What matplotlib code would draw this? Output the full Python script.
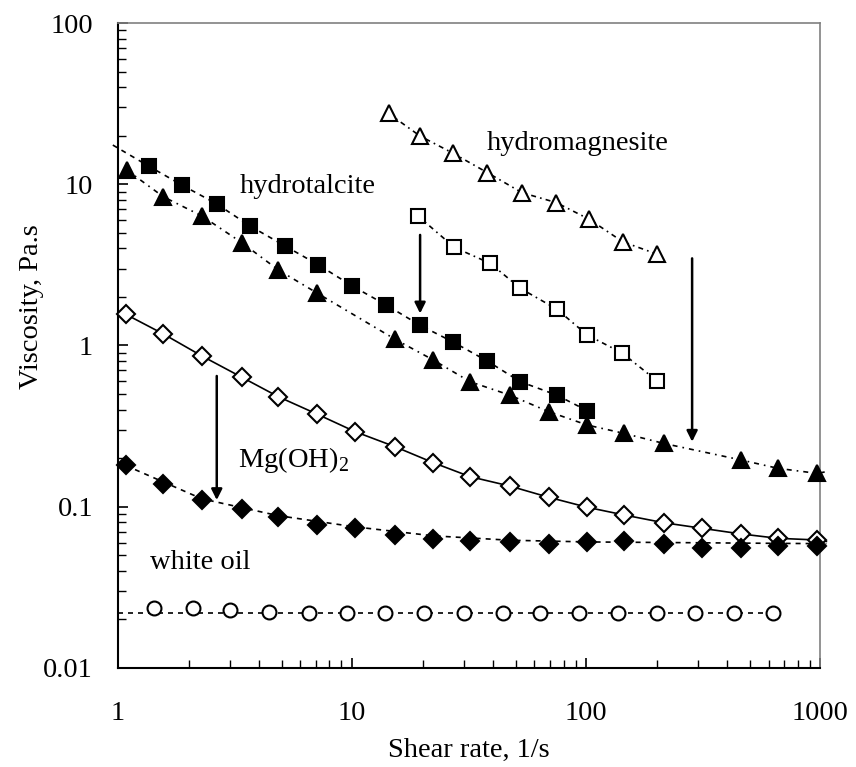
import matplotlib
matplotlib.use("Agg")
import matplotlib.pyplot as plt
from matplotlib.ticker import LogLocator, FuncFormatter, NullFormatter

plt.rcParams["font.family"] = ["Liberation Serif", "DejaVu Serif"]
plt.rcParams["mathtext.fontset"] = "custom"
plt.rcParams["mathtext.rm"] = "Liberation Serif"

# hydromagnesite, untreated (open triangles) and treated (open squares)
hmg_x = [14.3, 19.5, 26.9, 37.8, 53.1, 74.5, 103, 143, 200]
hmg_y = [27.5, 19.9, 15.6, 11.8, 8.87, 7.69, 6.06, 4.40, 3.69]
hmg_t_x = [19.1, 27.3, 38.9, 52.3, 74.8, 101, 142, 200]
hmg_t_y = [6.36, 4.06, 3.23, 2.26, 1.68, 1.16, 0.90, 0.605]

# hydrotalcite, untreated (filled squares) and treated (filled triangles)
ht_x = [1.35, 1.87, 2.64, 3.66, 5.17, 7.18, 10.0, 14.0, 19.4, 27.0, 37.8, 52.3, 74.6, 101]
ht_y = [12.97, 9.9, 7.55, 5.51, 4.14, 3.16, 2.34, 1.78, 1.34, 1.05, 0.80, 0.596, 0.493, 0.394]
ht_t_x = [1.09, 1.56, 2.28, 3.38, 4.84, 7.06, 15.3, 22.2, 31.9, 47, 69, 101, 145, 214, 458, 659, 968]
ht_t_y = [12.25, 8.37, 6.36, 4.34, 2.94, 2.12, 1.09, 0.813, 0.596, 0.493, 0.389, 0.321,
          0.285, 0.247, 0.195, 0.173, 0.161]

# Mg(OH)2, untreated (open diamonds) and treated (filled diamonds)
mg_x = [1.08, 1.56, 2.28, 3.38, 4.84, 7.06, 10.3, 15.2, 22.2, 31.9, 47, 69, 101, 145,
        214, 312, 458, 659, 968]
mg_y = [1.56, 1.18, 0.861, 0.635, 0.481, 0.376, 0.292, 0.236, 0.1876, 0.1536, 0.1345,
        0.1145, 0.0992, 0.0889, 0.0796, 0.0735, 0.0678, 0.0637, 0.0622]
mg_t_y = [0.1815, 0.1377, 0.110, 0.0964, 0.0868, 0.0771, 0.0735, 0.0668, 0.0633, 0.0616,
          0.0602, 0.0585, 0.0602, 0.0616, 0.0585, 0.0553, 0.0553, 0.0571, 0.0571]

# white oil (open circles)
wo_x = [1.43, 2.10, 3.01, 4.43, 6.51, 9.49, 13.8, 20.2, 29.9, 44, 63.1, 92.7, 136, 200,
        292, 429, 627]
wo_y = [0.0237, 0.0237, 0.0229, 0.0223] + [0.0218] * 13

# fitted curves
ht_fit_x = [0.95] + ht_x
ht_fit_y = [17.5] + ht_y
ht_t_fit_x = ht_t_x + [1060]
ht_t_fit_y = ht_t_y + [0.165]
mg_fit_x = mg_x + [1060]
mg_fit_y = mg_y + [0.061]
mg_t_fit_x = [1.08, 2.28, 4.84, 10.3, 22.2, 47, 101, 214, 458, 1060]
mg_t_fit_y = [0.18, 0.112, 0.088, 0.075, 0.066, 0.062, 0.0605, 0.060, 0.0595, 0.059]
wo_fit_x = [1.0, 627]
wo_fit_y = [0.0218, 0.0218]

fig = plt.figure(figsize=(8.56, 7.67), dpi=100)
ax = fig.add_axes([0.1379, 0.1291, 0.8206, 0.8409])
ax.set_xscale("log")
ax.set_yscale("log")
ax.set_xlim(1, 1000)
ax.set_ylim(0.01, 100)

lw = 1.2
ax.plot(hmg_x, hmg_y, color="black", lw=lw, ls=(0, (3, 2.5, 1, 2.5)), zorder=2)
ax.plot(hmg_t_x, hmg_t_y, color="black", lw=lw, ls=(0, (3, 2.5, 1, 2.5)), zorder=2)
ax.plot(ht_fit_x, ht_fit_y, color="black", lw=lw, ls=(0, (3, 3)), zorder=2, clip_on=False)
ax.plot(ht_t_fit_x, ht_t_fit_y, color="black", lw=lw, ls=(0, (3, 3, 1, 3)), zorder=2,
        clip_on=False)
ax.plot(mg_fit_x, mg_fit_y, color="black", lw=lw, ls="-", zorder=2, clip_on=False)
ax.plot(mg_t_fit_x, mg_t_fit_y, color="black", lw=lw, ls=(0, (3, 3)), zorder=2, clip_on=False)
ax.plot(wo_fit_x, wo_fit_y, color="black", lw=lw, ls=(0, (3, 3)), zorder=2)

mk = dict(ls="none", color="black", mec="black", mew=1.5, zorder=3, clip_on=False)
ax.plot(hmg_x, hmg_y, marker="^", ms=12, mfc="white", **mk)
ax.plot(hmg_t_x, hmg_t_y, marker="s", ms=10, mfc="white", **mk)
ax.plot(ht_x, ht_y, marker="s", ms=10.5, mfc="black", **mk)
ax.plot(ht_t_x, ht_t_y, marker="^", ms=12, mfc="black", **mk)
ax.plot(mg_x, mg_y, marker="D", ms=9, mfc="white", **mk)
ax.plot(mg_x, mg_t_y, marker="D", ms=9, mfc="black", **mk)
ax.plot(wo_x, wo_y, marker="o", ms=10, mfc="white", **mk)

arrow = dict(arrowstyle="-|>", color="black", lw=1.8, mutation_scale=16, shrinkA=0, shrinkB=0)
ax.annotate("", xy=(19.5, 1.58), xytext=(19.5, 4.85), arrowprops=arrow)
ax.annotate("", xy=(283, 0.253), xytext=(283, 3.47), arrowprops=arrow)
ax.annotate("", xy=(2.64, 0.110), xytext=(2.64, 0.647), arrowprops=arrow)

fs = 20.5
ax.text(37.6, 18.0, "hydromagnesite", fontsize=fs, va="center", ha="left")
ax.text(3.32, 9.66, "hydrotalcite", fontsize=fs, va="center", ha="left")
ax.text(3.26, 0.195, "Mg(OH)$_2$", fontsize=fs, va="center", ha="left")
ax.text(1.37, 0.0448, "white oil", fontsize=fs, va="center", ha="left")

for side in ["top", "right"]:
    ax.spines[side].set_color("#808080")
    ax.spines[side].set_linewidth(1.2)
for side in ["left", "bottom"]:
    ax.spines[side].set_color("black")
    ax.spines[side].set_linewidth(1.5)

fmt = FuncFormatter(lambda v, p: f"{v:g}")
ax.xaxis.set_major_locator(LogLocator(base=10, numticks=10))
ax.yaxis.set_major_locator(LogLocator(base=10, numticks=10))
ax.xaxis.set_major_formatter(fmt)
ax.yaxis.set_major_formatter(fmt)
ax.xaxis.set_minor_locator(LogLocator(base=10, subs=range(2, 10), numticks=20))
ax.yaxis.set_minor_locator(LogLocator(base=10, subs=range(2, 10), numticks=20))
ax.xaxis.set_minor_formatter(NullFormatter())
ax.yaxis.set_minor_formatter(NullFormatter())
ax.tick_params(which="both", direction="in", top=False, right=False, labelsize=fs)
ax.tick_params(which="major", length=7, width=1.2)
ax.tick_params(which="minor", length=6, width=1.0)
ax.tick_params(axis="x", which="major", pad=24)
ax.tick_params(axis="y", which="major", pad=18)

ax.set_xlabel("Shear rate, 1/s", fontsize=fs, labelpad=8)
ax.set_ylabel("Viscosity, Pa.s", fontsize=fs, labelpad=-1)
ax.yaxis.set_label_coords(-0.105, 0.56)

fig.savefig("out.png", dpi=100)
